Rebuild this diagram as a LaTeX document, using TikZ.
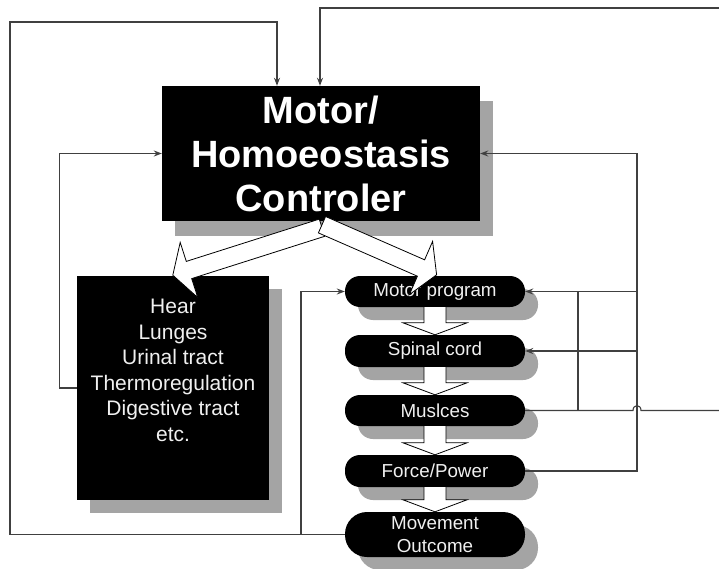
\documentclass[tikz,border=0pt]{standalone}
\usepackage{fontspec}
\setmainfont{Liberation Sans}
\usetikzlibrary{arrows.meta,shadows,calc}
\definecolor{shd}{HTML}{A4A4A4}
\definecolor{ln}{HTML}{404040}
\definecolor{txt}{HTML}{F0F0F0}
\begin{document}
\begin{tikzpicture}[x=1pt,y=-1pt,
  shadowed/.style={drop shadow={shadow xshift=13pt,shadow yshift=-13pt,fill=shd,opacity=1}},
  bigbox/.style={fill=black,inner sep=0pt,text=white,align=center},
  stad/.style={fill=black,rounded corners=15pt,minimum width=180pt,minimum height=31pt,
    inner sep=0pt,text=txt,align=center,font=\fontsize{18.8}{23}\selectfont,shadowed},
  conn/.style={draw=ln,line width=1.1pt},
  arr/.style={conn,-{Stealth[length=8pt,width=6pt]}},
  bigarr/.style={fill=white,draw=black,line width=0.8pt,line join=miter},
  blk/.style={fill=white,draw=black,line width=0.8pt,line join=miter}]
\useasboundingbox (0,0) rectangle (719,569);
\fill[white] (0,0) rectangle (719,569);

% main controller
\node[bigbox,minimum width=318pt,minimum height=135pt,
  drop shadow={shadow xshift=13pt,shadow yshift=-15pt,fill=shd,opacity=1},
  font=\fontsize{38}{44}\selectfont\bfseries] (ctrl) at (321,153.5)
  {Motor/\\Homoeostasis\\Controler};

% organ box
\node[bigbox,minimum width=192pt,minimum height=224pt,shadowed] (org) at (173,388) {};
\node[anchor=north,inner sep=0pt,text=txt,align=center,
  font=\fontsize{21}{25.5}\selectfont] (orgt) at (173,299)
  {Hear\\Lunges\\Urinal tract\\Thermoregulation\\Digestive tract\\etc.};

% chain
\node[stad] (mp) at (435,291.5) {Motor program};
\node[stad,minimum height=32pt] (sc) at (435,351) {Spinal cord};
\node[stad] (mu) at (435,410.5) {Muslces};
\node[stad,minimum height=32pt] (fp) at (435,471) {Force/Power};
\node[stad,minimum height=45pt,rounded corners=22pt] (mo) at (435,534.5) {Movement\\Outcome};

% small block arrows
\foreach \a/\b in {mp/sc,sc/mu,mu/fp,fp/mo}{
  \draw[blk] ([xshift=-11pt]\a.south) -- ([xshift=-11pt,yshift=12pt]\b.north)
    -- ([xshift=-32pt,yshift=12pt]\b.north) -- (\b.north)
    -- ([xshift=32pt,yshift=12pt]\b.north) -- ([xshift=11pt,yshift=12pt]\b.north)
    -- ([xshift=11pt]\a.south);
}

% big block arrows from controller
\draw[bigarr] (319.3,219.1) -- (186.3,261.4) -- (180.2,242.4) -- (172.8,275.2)
  -- (197.8,297.6) -- (191.7,278.6) -- (324.7,236.3) -- cycle;
\draw[bigarr] (325.6,216.5) -- (424.6,259.8) -- (432.6,241.4) -- (436.6,274.8)
  -- (409.4,294.6) -- (417.4,276.2) -- (318.4,232.9) -- cycle;

% bend / junction coordinates
\coordinate (lt) at (10,22);
\coordinate (rt) at (719,8);
\coordinate (j1) at (301,534.5);
\coordinate (rv) at (637,471);
\coordinate (v2) at (578,410.5);
\coordinate (mr) at (719,410.5);

% connectors
\draw[arr] (mo.west) -| (lt) -| ([xshift=-44pt]ctrl.north);
\draw[arr] (j1) |- (mp.west);
\draw[arr] (rt) -| ([xshift=-1pt]ctrl.north);
\draw[arr] (org.west) -- ++(-17,0) |- (ctrl.west);
\draw[arr] (fp.east) -- (rv) |- (ctrl.east);
\draw[arr] (mp.east -| rv) -- (mp.east);
\draw[arr] (sc.east -| rv) -- (sc.east);
\draw[conn] (mu.east) -- (633,410.5) .. controls (633,404) and (641,404) .. (641,410.5) -- (mr);
\draw[conn] (v2) -- (v2 |- mp.east);
\end{tikzpicture}
\end{document}
